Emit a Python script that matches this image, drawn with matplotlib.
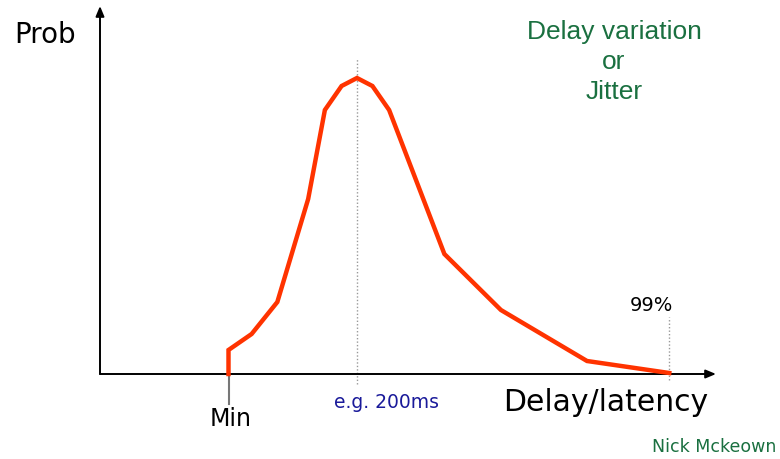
import matplotlib
matplotlib.use("Agg")
import matplotlib.pyplot as plt

# Data (delay in ms, probability in arbitrary units)
delay_ms = [100, 100, 118, 138, 162, 175, 188, 200, 212, 225, 268, 312, 379, 443]
prob = [0, 24, 40, 72, 175, 264, 288, 296, 288, 264, 120, 64, 13, 1]
min_delay = 100
peak_delay = 200
p99_delay = 443
peak_label = "e.g. 200ms"

fig = plt.figure(figsize=(7.8, 4.6), dpi=100)
ax = fig.add_axes([0, 0, 1, 1])
sx = 200 / 257.0
ax.set_xlim(-100 * sx, 680 * sx)
ax.set_ylim(-85, 375)
ax.axis("off")

# axes with arrows
ax.annotate("", xy=(616 * sx, 0), xytext=(0, 0),
            arrowprops=dict(arrowstyle="-|>,head_length=0.6,head_width=0.25", color="black", lw=1.4,
                            shrinkA=0, shrinkB=0))
ax.annotate("", xy=(0, 368), xytext=(0, 0),
            arrowprops=dict(arrowstyle="-|>,head_length=0.6,head_width=0.25", color="black", lw=1.4,
                            shrinkA=0, shrinkB=0))

# dotted guides
ax.plot([peak_delay, peak_delay], [-10, 315], color="#999999", lw=1, ls=(0, (1, 1.5)), zorder=1)
ax.plot([p99_delay, p99_delay], [-6, 57], color="#999999", lw=1, ls=(0, (1, 1.5)), zorder=1)
# min tick
ax.plot([min_delay, min_delay], [0, -30], color="#777777", lw=1.5, zorder=1)

ax.plot(delay_ms, prob, color="#ff3300", lw=3.2, solid_joinstyle="miter", zorder=3)

ax.text(14 * sx - 100 * sx, 340, "Prob", fontsize=20, family="DejaVu Sans", va="center", ha="left")
ax.text((503 - 100) * sx, 375 - 403, "Delay/latency", fontsize=21.5, family="DejaVu Sans",
        va="center", ha="left")
ax.text(min_delay + 2, 375 - 419, "Min", fontsize=17, family="DejaVu Sans", va="center", ha="center")
ax.text((386 - 100) * sx, 375 - 403, peak_label, fontsize=13.5, family="DejaVu Sans",
        color="#1a1a9a", va="center", ha="center")
ax.text((651 - 100) * sx, 375 - 306, "99%", fontsize=14, family="DejaVu Sans",
        va="center", ha="center")
ax.text((776 - 100) * sx, 375 - 447, "Nick Mckeown", fontsize=12.5, family="DejaVu Sans",
        color="#1a7040", va="center", ha="right")
ax.text((614 - 100) * sx, 375 - 62, "Delay variation\nor\nJitter", fontsize=19,
        family="Liberation Sans", color="#1a7040", va="center", ha="center", linespacing=1.3)

fig.savefig("out.png", dpi=100)
